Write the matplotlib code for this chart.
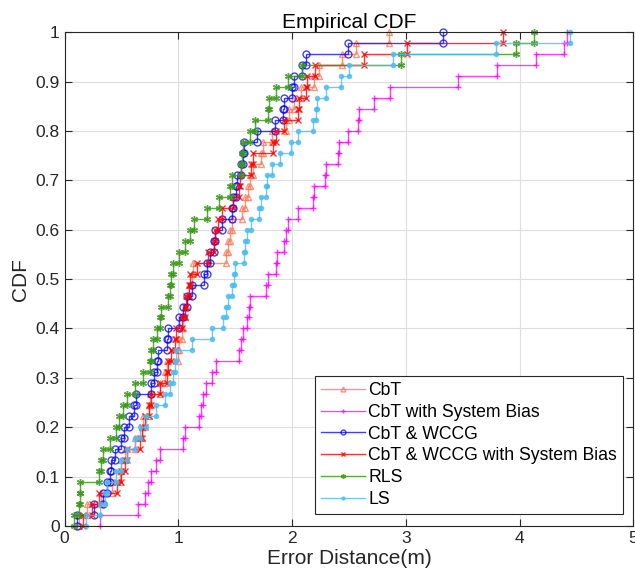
import numpy as np
import matplotlib.pyplot as plt

plt.rcParams['font.family'] = ['Liberation Sans', 'DejaVu Sans']

# sorted error distances (m), 45 samples per method
cbt = [0.13, 0.20, 0.32, 0.42, 0.49, 0.50, 0.53, 0.62, 0.68, 0.69,
       0.74, 0.75, 0.84, 0.88, 0.90, 1.00, 1.01, 1.03, 1.04, 1.06,
       1.08, 1.09, 1.12, 1.13, 1.42, 1.44, 1.45, 1.47, 1.56, 1.59,
       1.61, 1.63, 1.66, 1.73, 1.74, 1.82, 1.95, 1.97, 2.02, 2.08,
       2.19, 2.24, 2.44, 2.56, 2.85]
cbt_bias = [0.31, 0.65, 0.71, 0.73, 0.76, 0.80, 0.84, 1.04, 1.06, 1.18,
            1.20, 1.22, 1.24, 1.30, 1.33, 1.53, 1.55, 1.57, 1.60, 1.62,
            1.63, 1.77, 1.79, 1.86, 1.87, 1.93, 1.95, 1.96, 2.05, 2.18,
            2.19, 2.29, 2.30, 2.40, 2.41, 2.49, 2.58, 2.59, 2.72, 2.86,
            3.46, 3.80, 4.14, 4.39, 4.42]
wccg = [0.11, 0.26, 0.34, 0.37, 0.40, 0.41, 0.44, 0.50, 0.52, 0.57,
        0.61, 0.63, 0.76, 0.79, 0.81, 0.82, 0.90, 0.91, 1.01, 1.04,
        1.08, 1.12, 1.23, 1.25, 1.28, 1.31, 1.32, 1.38, 1.47, 1.48,
        1.51, 1.52, 1.55, 1.57, 1.58, 1.69, 1.85, 1.92, 1.93, 2.00,
        2.02, 2.09, 2.12, 2.49, 3.33]
wccg_bias = [0.16, 0.24, 0.30, 0.46, 0.50, 0.53, 0.55, 0.66, 0.68, 0.71,
             0.74, 0.76, 0.84, 0.90, 0.91, 0.94, 0.97, 0.98, 1.03, 1.06,
             1.07, 1.09, 1.10, 1.16, 1.26, 1.31, 1.32, 1.35, 1.38, 1.48,
             1.53, 1.54, 1.64, 1.66, 1.83, 1.86, 1.93, 2.05, 2.06, 2.12,
             2.13, 2.20, 2.63, 3.01, 3.85]
rls = [0.08, 0.13, 0.135, 0.14, 0.30, 0.32, 0.34, 0.40, 0.45, 0.48,
       0.51, 0.55, 0.62, 0.69, 0.75, 0.76, 0.78, 0.81, 0.84, 0.85,
       0.91, 0.925, 0.94, 0.95, 1.01, 1.06, 1.10, 1.14, 1.25, 1.36,
       1.45, 1.47, 1.55, 1.56, 1.57, 1.63, 1.67, 1.79, 1.80, 1.86,
       1.96, 2.09, 2.96, 3.97, 4.13]
ls = [0.19, 0.31, 0.36, 0.37, 0.45, 0.50, 0.55, 0.62, 0.66, 0.72,
      0.80, 0.88, 0.93, 0.95, 0.97, 0.98, 1.12, 1.30, 1.39, 1.42,
      1.44, 1.47, 1.49, 1.50, 1.58, 1.59, 1.60, 1.64, 1.71, 1.73,
      1.77, 1.78, 1.82, 1.89, 1.99, 2.05, 2.18, 2.21, 2.22, 2.30,
      2.43, 2.50, 2.89, 3.79, 4.44]

labels = ['CbT', 'CbT with System Bias', 'CbT & WCCG',
          'CbT & WCCG with System Bias', 'RLS', 'LS']
series = [cbt, cbt_bias, wccg, wccg_bias, rls, ls]
colors = ['#ff7a5c', '#ff00ff', '#0000ff', '#ff0000', '#3a9a1a', '#4dbeee']
markers = ['^', '+', 'o', 'x', (6, 2, 0), '.']
alphas = [0.8, 0.75, 0.75, 0.8, 0.85, 0.8]


def cdf_steps(vals):
    # cdfplot style: every value gives a riser with a vertex at bottom and top
    s = np.sort(np.array(vals))
    n = len(s)
    xx = np.repeat(s, 2)
    k = np.arange(1, n + 1) / n
    yy = np.column_stack([k - 1 / n, k]).ravel()
    return xx, yy


fig = plt.figure(figsize=(6.35, 5.83), dpi=100)
ax = fig.add_axes([0.1016, 0.0978, 0.896, 0.847])

for vals, lab, c, m, a in zip(series, labels, colors, markers, alphas):
    xx, yy = cdf_steps(vals)
    mfc = c if m in ('.', (6, 2, 0)) else 'none'
    ms = 6 if m == '.' else 5
    ax.plot(xx, yy, color=c, lw=1.0, marker=m, ms=ms, mfc=mfc, mew=1.0,
            alpha=a, label=lab, clip_on=False)

ax.set_xlim(0, 5)
ax.set_ylim(0, 1)
ax.set_xticks(np.arange(0, 6, 1))
ax.set_yticks(np.arange(0, 1.01, 0.1))
ax.set_yticklabels(['0', '0.1', '0.2', '0.3', '0.4', '0.5', '0.6', '0.7',
                    '0.8', '0.9', '1'])
ax.grid(True, color='#dedede', lw=0.8)
ax.set_axisbelow(True)
ax.tick_params(direction='in', top=True, right=True, labelsize=12.5,
               colors='#262626', length=5)
for sp in ax.spines.values():
    sp.set_color('#262626')
    sp.set_linewidth(0.8)

ax.set_title('Empirical CDF', fontsize=15, color='#000000', pad=3)
ax.set_xlabel('Error Distance(m)', fontsize=15, color='#262626', labelpad=2)
ax.set_ylabel('CDF', fontsize=15, color='#262626', labelpad=4)

leg = ax.legend(loc='lower right', bbox_to_anchor=(0.9816, 0.0243),
                borderaxespad=0, fontsize=12.7, handlelength=2.45,
                handletextpad=0.2, labelspacing=0.27, borderpad=0.35,
                fancybox=False, framealpha=1, edgecolor='#262626',
                markerscale=0.7)
leg.get_frame().set_linewidth(0.8)

plt.savefig('out.png', dpi=100)
